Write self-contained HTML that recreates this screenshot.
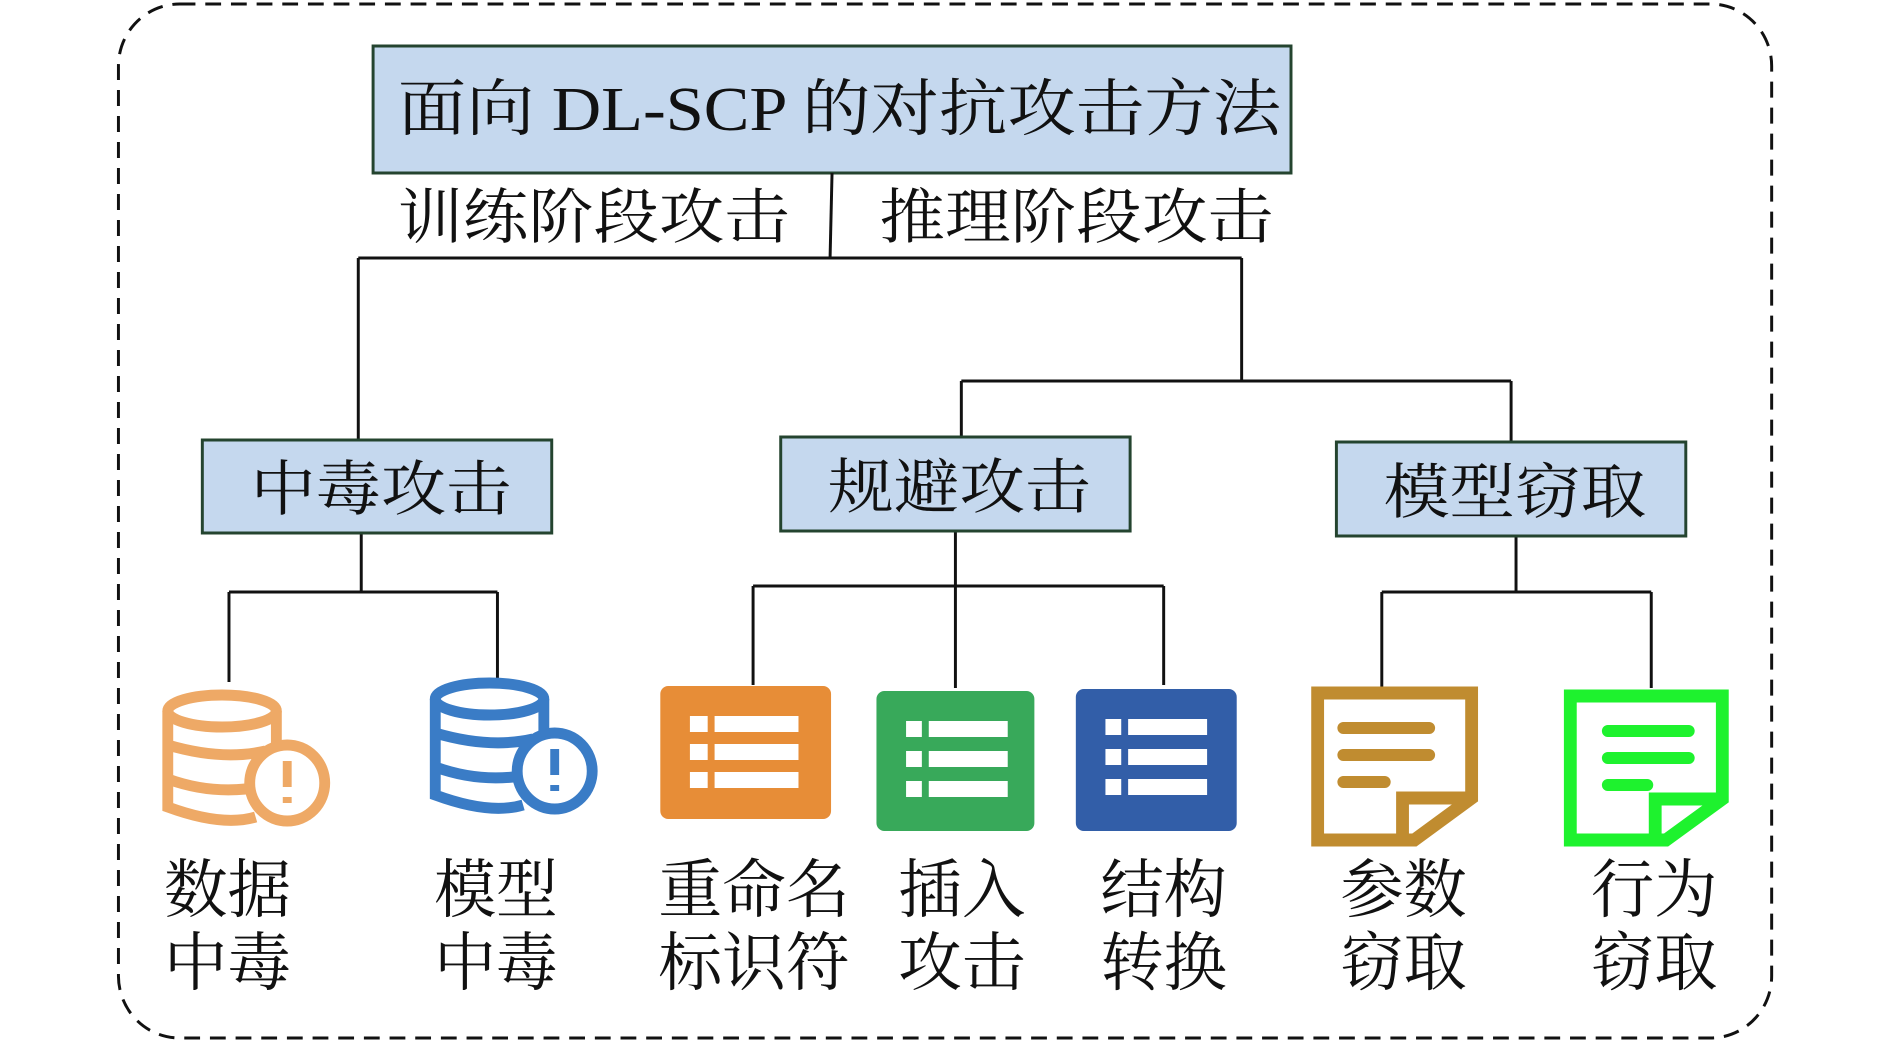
<!DOCTYPE html>
<html><head><meta charset="utf-8"><style>
html,body{margin:0;padding:0;background:#fff;}
svg{display:block}
text{font-family:"Liberation Serif","Noto Serif CJK SC",serif;fill:#111}
</style></head><body>
<svg width="1890" height="1043" viewBox="0 0 1890 1043" xmlns="http://www.w3.org/2000/svg">
<g transform="matrix(0.987 0 0 1 0 0)">
<rect x="120" y="4" width="1675" height="1034" rx="62" fill="none" stroke="#111" stroke-width="3" stroke-dasharray="16 10"/>
<!-- top box -->
<rect x="378" y="46" width="930" height="127" fill="#c5d8ee" stroke="#24442f" stroke-width="3"/>
<text x="403" y="130" font-size="62" textLength="895" lengthAdjust="spacingAndGlyphs">面向 DL-SCP 的对抗攻击方法</text>
<text x="403" y="238" font-size="60" textLength="397" lengthAdjust="spacingAndGlyphs">训练阶段攻击</text>
<text x="891" y="238" font-size="60" textLength="399" lengthAdjust="spacingAndGlyphs">推理阶段攻击</text>
<g stroke="#111" stroke-width="3" fill="none">
<path d="M843 173 L841 258"/>
<path d="M363 258 H1258 M363 258 V440 M1258 258 V381 M974 381 H1531 M974 381 V437 M1531 381 V442"/>
<path d="M366 533 V592 M232 592 H504 M232 592 V682 M504 592 V680"/>
<path d="M968 531 V688 M763 586 H1179 M763 586 V685 M1179 586 V685"/>
<path d="M1536 536 V592 M1400 592 H1673 M1400 592 V688 M1673 592 V688"/>
</g>
<rect x="205" y="440" width="354" height="93" fill="#c5d8ee" stroke="#24442f" stroke-width="3"/>
<rect x="791" y="437" width="354" height="94" fill="#c5d8ee" stroke="#24442f" stroke-width="3"/>
<rect x="1354" y="442" width="354" height="94" fill="#c5d8ee" stroke="#24442f" stroke-width="3"/>
<text x="254" y="510" font-size="60" textLength="264" lengthAdjust="spacingAndGlyphs">中毒攻击</text>
<text x="839" y="508" font-size="60" textLength="266" lengthAdjust="spacingAndGlyphs">规避攻击</text>
<text x="1402" y="513" font-size="60" textLength="266" lengthAdjust="spacingAndGlyphs">模型窃取</text>

<!-- DB icons -->
<g transform="translate(159,689)" fill="none" stroke="#eea966" stroke-width="11">
<ellipse cx="66" cy="22" rx="55" ry="16"/>
<path d="M11 22 V118 Q66 138 100 128 M121 22 V60 M11 56 Q66 72 110 62 M11 90 Q50 104 90 100"/>
<circle cx="132" cy="94" r="38" fill="#fff"/>
<path d="M132 72 V98 M132 108 V114" stroke-width="9"/>
</g>
<g transform="translate(430,677)" fill="none" stroke="#3a7cc6" stroke-width="11">
<ellipse cx="66" cy="22" rx="55" ry="16"/>
<path d="M11 22 V118 Q66 138 100 128 M121 22 V60 M11 56 Q66 72 110 62 M11 90 Q50 104 90 100"/>
<circle cx="132" cy="94" r="38" fill="#fff"/>
<path d="M132 72 V98 M132 108 V114" stroke-width="9"/>
</g>
<!-- list icons -->
<g transform="translate(669,686)">
<rect width="173" height="133" rx="8" fill="#e78d37"/>
<g fill="#fff"><rect x="30" y="30" width="18" height="16"/><rect x="55" y="30" width="85" height="16"/>
<rect x="30" y="58" width="18" height="16"/><rect x="55" y="58" width="85" height="16"/>
<rect x="30" y="86" width="18" height="16"/><rect x="55" y="86" width="85" height="16"/></g>
</g>
<g transform="translate(888,691)">
<rect width="160" height="140" rx="8" fill="#38a95a"/>
<g fill="#fff"><rect x="30" y="30" width="16" height="16"/><rect x="53" y="30" width="80" height="16"/>
<rect x="30" y="60" width="16" height="16"/><rect x="53" y="60" width="80" height="16"/>
<rect x="30" y="90" width="16" height="16"/><rect x="53" y="90" width="80" height="16"/></g>
</g>
<g transform="translate(1090,689)">
<rect width="163" height="142" rx="8" fill="#325ea8"/>
<g fill="#fff"><rect x="30" y="30" width="16" height="16"/><rect x="53" y="30" width="80" height="16"/>
<rect x="30" y="60" width="16" height="16"/><rect x="53" y="60" width="80" height="16"/>
<rect x="30" y="90" width="16" height="16"/><rect x="53" y="90" width="80" height="16"/></g>
</g>
<!-- note icons -->
<g transform="translate(1328,686)" fill="none" stroke="#c08c30" stroke-width="13" stroke-linejoin="miter">
<path d="M7 7 H163 V112 L105 154 H7 Z"/>
<path d="M163 112 H93 V154"/>
<path d="M33 42 H120 M33 69 H120 M33 96 H75" stroke-linecap="round" stroke-width="12"/>
</g>
<g transform="translate(1584,689)" fill="none" stroke="#1ef22e" stroke-width="13">
<path d="M7 7 H161 V110 L104 151 H7 Z"/>
<path d="M161 110 H93 V151"/>
<path d="M45 42 H127 M45 69 H127 M45 96 H85" stroke-linecap="round" stroke-width="12"/>
</g>

<!-- labels -->
<g font-size="64">
<text x="166" y="912" textLength="129" lengthAdjust="spacingAndGlyphs">数据</text>
<text x="166" y="985" textLength="129" lengthAdjust="spacingAndGlyphs">中毒</text>
<text x="440" y="912" textLength="125" lengthAdjust="spacingAndGlyphs">模型</text>
<text x="440" y="985" textLength="125" lengthAdjust="spacingAndGlyphs">中毒</text>
<text x="667" y="912" textLength="194" lengthAdjust="spacingAndGlyphs">重命名</text>
<text x="667" y="985" textLength="194" lengthAdjust="spacingAndGlyphs">标识符</text>
<text x="910" y="912" textLength="129" lengthAdjust="spacingAndGlyphs">插入</text>
<text x="910" y="985" textLength="129" lengthAdjust="spacingAndGlyphs">攻击</text>
<text x="1115" y="912" textLength="128" lengthAdjust="spacingAndGlyphs">结构</text>
<text x="1115" y="985" textLength="128" lengthAdjust="spacingAndGlyphs">转换</text>
<text x="1358" y="912" textLength="128" lengthAdjust="spacingAndGlyphs">参数</text>
<text x="1358" y="985" textLength="128" lengthAdjust="spacingAndGlyphs">窃取</text>
<text x="1612" y="912" textLength="128" lengthAdjust="spacingAndGlyphs">行为</text>
<text x="1612" y="985" textLength="128" lengthAdjust="spacingAndGlyphs">窃取</text>
</g>
</g>
</svg>
</body></html>
